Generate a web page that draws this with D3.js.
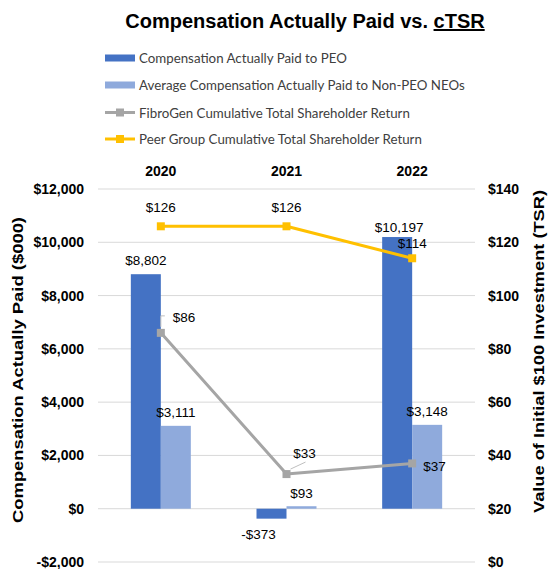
<!DOCTYPE html>
<html>
<head>
<meta charset="utf-8">
<script src="https://cdn.jsdelivr.net/npm/d3@7"></script>
<style>
  html, body { margin: 0; padding: 0; background: #fff; }
  svg { display: block; }
</style>
</head>
<body>
<svg id="chart" width="549" height="569"></svg>
<script>
// ---- data ----
const years = ["2020", "2021", "2022"];
const capPEO = [8802, -373, 10197];          // $000
const capNonPEO = [3111, 93, 3148];          // $000
const tsrFibroGen = [86, 33, 37];            // value of $100
const tsrPeer = [126, 126, 114];             // value of $100
const leftTicks = [-2000, 0, 2000, 4000, 6000, 8000, 10000, 12000];
const rightTicks = [0, 20, 40, 60, 80, 100, 120, 140];
const seriesNames = [
  "Compensation Actually Paid to PEO",
  "Average Compensation Actually Paid to Non-PEO NEOs",
  "FibroGen Cumulative Total Shareholder Return",
  "Peer Group Cumulative Total Shareholder Return"
];

// ---- styles ----
const C_PEO = "#4472C4", C_NON = "#8FAADC", C_FIB = "#A5A5A5", C_PEER = "#FFC000";
const BOLD = "'Liberation Sans', Arial, sans-serif";
const LEG = "Lato, 'Liberation Sans', sans-serif";

const svg = d3.select("#chart");
const plot = { left: 98, right: 475, top: 189, bottom: 562 };

const x = d3.scaleBand().domain(years).range([plot.left, plot.right]).padding(0);
const yL = d3.scaleLinear().domain([-2000, 12000]).range([plot.bottom, plot.top]);
const yR = d3.scaleLinear().domain([0, 140]).range([plot.bottom, plot.top]);
const cx = d => x(d) + x.bandwidth() / 2;
const barW = 30;
const fmt = v => (v < 0 ? "-$" : "$") + d3.format(",")(Math.abs(v));

// title
const title = svg.append("text")
  .attr("x", 305).attr("y", 28).attr("text-anchor", "middle")
  .attr("font-family", BOLD).attr("font-weight", "bold").attr("font-size", 20)
  .attr("fill", "#000");
title.append("tspan").text("Compensation Actually Paid vs. ");
title.append("tspan").attr("text-decoration", "underline").text("cTSR");

// legend
const legY = [58, 85, 112.5, 139];
const leg = svg.append("g");
seriesNames.forEach((name, i) => {
  const g = leg.append("g").attr("transform", `translate(105,${legY[i]})`);
  if (i < 2) {
    g.append("rect").attr("x", 0).attr("y", -3.5).attr("width", 30).attr("height", 7)
      .attr("fill", i === 0 ? C_PEO : C_NON);
  } else {
    const col = i === 2 ? C_FIB : C_PEER;
    g.append("line").attr("x1", 0).attr("x2", 30).attr("y1", 0).attr("y2", 0)
      .attr("stroke", col).attr("stroke-width", 3);
    g.append("rect").attr("x", 11).attr("y", -4).attr("width", 8).attr("height", 8).attr("fill", col);
  }
  g.append("text").attr("x", 34).attr("y", 5)
    .attr("font-family", LEG).attr("font-size", 13.3).attr("fill", "#404040")
    .text(name);
});

// gridlines
svg.append("g").selectAll("line").data(leftTicks).join("line")
  .attr("x1", plot.left).attr("x2", plot.right)
  .attr("y1", d => yL(d)).attr("y2", d => yL(d))
  .attr("stroke", "#d9d9d9").attr("stroke-width", 1);

// left axis
const axL = svg.append("g").attr("transform", `translate(${plot.left - 14},0)`)
  .call(d3.axisLeft(yL).tickValues(leftTicks).tickFormat(fmt).tickSize(0).tickPadding(0));
axL.select(".domain").remove();
axL.selectAll("text").attr("font-family", BOLD).attr("font-weight", "bold")
  .attr("font-size", 14).attr("fill", "#000");

// right axis
const axR = svg.append("g").attr("transform", `translate(${plot.right + 13},0)`)
  .call(d3.axisRight(yR).tickValues(rightTicks).tickFormat(d => "$" + d).tickSize(0).tickPadding(0));
axR.select(".domain").remove();
axR.selectAll("text").attr("font-family", BOLD).attr("font-weight", "bold")
  .attr("font-size", 14).attr("fill", "#000");

// year labels along the top
const axT = svg.append("g").attr("transform", `translate(0,${plot.top - 18})`)
  .call(d3.axisTop(x).tickSize(0).tickPadding(0));
axT.select(".domain").remove();
axT.selectAll("text").attr("font-family", BOLD).attr("font-weight", "bold")
  .attr("font-size", 14).attr("fill", "#000").attr("dy", "0.35em").attr("y", 0);

// axis titles
svg.append("text")
  .attr("transform", "translate(23,370) rotate(-90)").attr("text-anchor", "middle")
  .attr("font-family", BOLD).attr("font-weight", "bold").attr("font-size", 15)
  .attr("textLength", 306).attr("lengthAdjust", "spacingAndGlyphs")
  .attr("fill", "#000").text("Compensation Actually Paid ($000)");
svg.append("text")
  .attr("transform", "translate(544,351.5) rotate(-90)").attr("text-anchor", "middle")
  .attr("font-family", BOLD).attr("font-weight", "bold").attr("font-size", 15)
  .attr("textLength", 323).attr("lengthAdjust", "spacingAndGlyphs")
  .attr("fill", "#000").text("Value of Initial $100 Investment (TSR)");

// bars
const barData = years.flatMap((yr, i) => [
  { yr, v: capPEO[i], dx: -barW, fill: C_PEO },
  { yr, v: capNonPEO[i], dx: 0, fill: C_NON }
]);
svg.append("g").selectAll("rect").data(barData).join("rect")
  .attr("x", d => cx(d.yr) + d.dx)
  .attr("width", barW)
  .attr("y", d => Math.min(yL(d.v), yL(0)))
  .attr("height", d => Math.abs(yL(d.v) - yL(0)))
  .attr("fill", d => d.fill);

// TSR lines
function drawLine(vals, color) {
  const pts = years.map((yr, i) => [cx(yr), yR(vals[i])]);
  svg.append("path").attr("d", d3.line()(pts))
    .attr("fill", "none").attr("stroke", color).attr("stroke-width", 3)
    .attr("stroke-linejoin", "round");
  svg.append("g").selectAll("rect").data(pts).join("rect")
    .attr("x", d => d[0] - 4).attr("y", d => d[1] - 4)
    .attr("width", 8).attr("height", 8).attr("fill", color);
}
drawLine(tsrFibroGen, C_FIB);
drawLine(tsrPeer, C_PEER);

// data labels
const LBL = { "font-family": BOLD, "font-size": 13.5, fill: "#000" };
function label(xp, yp, txt, anchor) {
  const t = svg.append("text").attr("x", xp).attr("y", yp)
    .attr("text-anchor", anchor || "middle").text(txt);
  Object.entries(LBL).forEach(([k, v]) => t.attr(k, v));
}
// bar value labels (nudges keep them clear of neighbouring marks)
const peoNudge = [[0, -9], [-13, 20], [2, -5]];
const nonNudge = [[0, -9], [0, -8], [0, -9]];
years.forEach((yr, i) => {
  const v = capPEO[i];
  const edge = yL(v);
  label(cx(yr) - barW / 2 + peoNudge[i][0], edge + peoNudge[i][1], fmt(v));
  label(cx(yr) + barW / 2 + nonNudge[i][0], yL(capNonPEO[i]) + nonNudge[i][1], fmt(capNonPEO[i]));
});
// peer group labels
const peerNudge = [[0, -14], [0, -14], [0, -10]];
years.forEach((yr, i) => {
  label(cx(yr) + peerNudge[i][0], yR(tsrPeer[i]) + peerNudge[i][1], "$" + tsrPeer[i]);
});
// FibroGen labels with leader lines
const leader = { stroke: "#bfbfbf", width: 1 };
{
  const p = [cx(years[0]), yR(tsrFibroGen[0])];
  svg.append("path").attr("d", `M${p[0]},${p[1] - 6} V${p[1] - 17} H${p[0] + 4}`)
    .attr("fill", "none").attr("stroke", leader.stroke).attr("stroke-width", leader.width);
  label(p[0] + 12, p[1] - 11, "$" + tsrFibroGen[0], "start");
}
{
  const p = [cx(years[1]), yR(tsrFibroGen[1])];
  svg.append("line").attr("x1", p[0] + 4).attr("y1", p[1] - 5)
    .attr("x2", p[0] + 19).attr("y2", p[1] - 12)
    .attr("stroke", leader.stroke).attr("stroke-width", leader.width);
  label(p[0] + 18, p[1] - 16, "$" + tsrFibroGen[1]);
}
{
  const p = [cx(years[2]), yR(tsrFibroGen[2])];
  label(p[0] + 11, p[1] + 8, "$" + tsrFibroGen[2], "start");
}
</script>
</body>
</html>
